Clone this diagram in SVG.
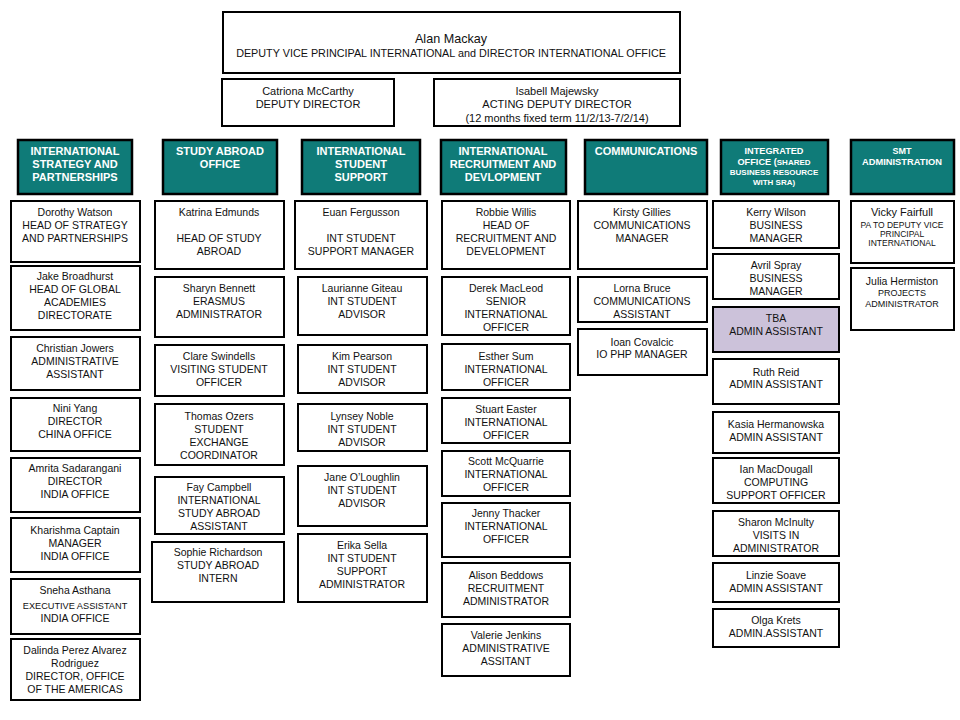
<svg xmlns="http://www.w3.org/2000/svg" width="960" height="720" viewBox="0 0 960 720">
<style>
.b{fill:#fff;stroke:#000;stroke-width:2}
.l{fill:#CCC2DA;stroke:#000;stroke-width:2}
.h{fill:#0F7B78;stroke:#000;stroke-width:2.5}
text{font-family:"Liberation Sans",Arial,sans-serif;text-anchor:middle;fill:#111;font-size:10.5px}
.ht{font-weight:bold;fill:#fff;font-size:11px}
.s{font-size:9.2px}
.tp{font-size:11px}
</style>
<rect width="960" height="720" fill="#fff"/>
<g id="connectors"/>
<g id="alan"><rect class="b" x="223" y="12" width="457" height="61"/><text x="451" y="43" style="font-size:12.6px">Alan Mackay</text><text x="451" y="57" style="font-size:10.8px">DEPUTY VICE PRINCIPAL INTERNATIONAL and DIRECTOR INTERNATIONAL OFFICE</text></g>
<g id="catriona"><rect class="b" x="222" y="79" width="172" height="47"/><text class="tp" x="308" y="95">Catriona McCarthy</text><text class="tp" x="308" y="108">DEPUTY DIRECTOR</text></g>
<g id="isabell"><rect class="b" x="434" y="79" width="246" height="47"/><text class="tp" x="557" y="95">Isabell Majewsky</text><text class="tp" x="557" y="108">ACTING DEPUTY DIRECTOR</text><text class="tp" x="557" y="122">(12 months fixed term 11/2/13-7/2/14)</text></g>

<g id="h1"><rect class="h" x="18" y="140" width="114" height="54"/><text class="ht" x="75" y="155">INTERNATIONAL</text><text class="ht" x="75" y="168">STRATEGY AND</text><text class="ht" x="75" y="181">PARTNERSHIPS</text></g>
<g id="h2"><rect class="h" x="163" y="140" width="114" height="54"/><text class="ht" x="220" y="155">STUDY ABROAD</text><text class="ht" x="220" y="168">OFFICE</text></g>
<g id="h3"><rect class="h" x="302" y="140" width="118" height="54"/><text class="ht" x="361" y="155">INTERNATIONAL</text><text class="ht" x="361" y="168">STUDENT</text><text class="ht" x="361" y="181">SUPPORT</text></g>
<g id="h4"><rect class="h" x="441" y="140" width="125" height="54"/><text class="ht" x="503" y="155">INTERNATIONAL</text><text class="ht" x="503" y="168">RECRUITMENT AND</text><text class="ht" x="503" y="181">DEVLOPMENT</text></g>
<g id="h5"><rect class="h" x="585" y="140" width="122" height="54"/><text class="ht" x="646" y="155">COMMUNICATIONS</text></g>
<g id="h6"><rect class="h" x="721" y="140" width="107" height="54"/><text class="ht" x="774" y="154" style="font-size:9.2px">INTEGRATED</text><text class="ht" x="774" y="165" style="font-size:9.2px">OFFICE (<tspan style="font-size:8px">SHARED</tspan></text><text class="ht" x="774" y="175" style="font-size:8px">BUSINESS RESOURCE</text><text class="ht" x="774" y="185" style="font-size:8px">WITH SRA)</text></g>
<g id="h7"><rect class="h" x="851" y="140" width="103" height="54"/><text class="ht" x="902" y="154" style="font-size:9px">SMT</text><text class="ht" x="902" y="165" style="font-size:9.3px">ADMINISTRATION</text></g>

<g id="dorothy"><rect class="b" x="11" y="201" width="129" height="61"/><text x="75" y="216">Dorothy Watson</text><text x="75" y="229">HEAD OF STRATEGY</text><text x="75" y="242">AND PARTNERSHIPS</text></g>
<g id="jake"><rect class="b" x="11" y="266" width="129" height="64"/><text x="75" y="280">Jake Broadhurst</text><text x="75" y="293">HEAD OF GLOBAL</text><text x="75" y="306">ACADEMIES</text><text x="75" y="319">DIRECTORATE</text></g>
<g id="christian"><rect class="b" x="11" y="337" width="129" height="53"/><text x="75" y="352">Christian Jowers</text><text x="75" y="365">ADMINISTRATIVE</text><text x="75" y="378">ASSISTANT</text></g>
<g id="nini"><rect class="b" x="11" y="398" width="129" height="53"/><text x="75" y="412">Nini Yang</text><text x="75" y="425">DIRECTOR</text><text x="75" y="438">CHINA OFFICE</text></g>
<g id="amrita"><rect class="b" x="11" y="458" width="129" height="54"/><text x="75" y="472">Amrita Sadarangani</text><text x="75" y="485">DIRECTOR</text><text x="75" y="498">INDIA OFFICE</text></g>
<g id="kharishma"><rect class="b" x="11" y="518" width="129" height="54"/><text x="75" y="534">Kharishma Captain</text><text x="75" y="547">MANAGER</text><text x="75" y="560">INDIA OFFICE</text></g>
<g id="sneha"><rect class="b" x="11" y="579" width="129" height="55"/><text x="75" y="594">Sneha Asthana</text><text class="s" x="75" y="609">EXECUTIVE ASSISTANT</text><text x="75" y="622">INDIA OFFICE</text></g>
<g id="dalinda"><rect class="b" x="11" y="639" width="129" height="61"/><text x="75" y="654">Dalinda Perez Alvarez</text><text x="75" y="667">Rodriguez</text><text x="75" y="680">DIRECTOR, OFFICE</text><text x="75" y="693">OF THE AMERICAS</text></g>

<g id="katrina"><rect class="b" x="155" y="201" width="129" height="68"/><text x="219" y="216">Katrina Edmunds</text><text x="219" y="242">HEAD OF STUDY</text><text x="219" y="255">ABROAD</text></g>
<g id="sharyn"><rect class="b" x="155" y="277" width="129" height="60"/><text x="219" y="292">Sharyn Bennett</text><text x="219" y="305">ERASMUS</text><text x="219" y="318">ADMINISTRATOR</text></g>
<g id="clare"><rect class="b" x="155" y="345" width="129" height="51"/><text x="219" y="360">Clare Swindells</text><text x="219" y="373">VISITING STUDENT</text><text x="219" y="386">OFFICER</text></g>
<g id="thomas"><rect class="b" x="155" y="404" width="129" height="61"/><text x="219" y="420">Thomas Ozers</text><text x="219" y="433">STUDENT</text><text x="219" y="446">EXCHANGE</text><text x="219" y="459">COORDINATOR</text></g>
<g id="fay"><rect class="b" x="155" y="477" width="129" height="57"/><text x="219" y="491">Fay Campbell</text><text x="219" y="504">INTERNATIONAL</text><text x="219" y="517">STUDY ABROAD</text><text x="219" y="530">ASSISTANT</text></g>
<g id="sophie"><rect class="b" x="152" y="542" width="132" height="60"/><text x="218" y="556">Sophie Richardson</text><text x="218" y="569">STUDY ABROAD</text><text x="218" y="582">INTERN</text></g>

<g id="euan"><rect class="b" x="295" y="201" width="132" height="68"/><text x="361" y="216">Euan Fergusson</text><text x="361" y="242">INT STUDENT</text><text x="361" y="255">SUPPORT MANAGER</text></g>
<g id="laurianne"><rect class="b" x="298" y="277" width="129" height="58"/><text x="362" y="292">Laurianne Giteau</text><text x="362" y="305">INT STUDENT</text><text x="362" y="318">ADVISOR</text></g>
<g id="kim"><rect class="b" x="298" y="345" width="129" height="48"/><text x="362" y="360">Kim Pearson</text><text x="362" y="373">INT STUDENT</text><text x="362" y="386">ADVISOR</text></g>
<g id="lynsey"><rect class="b" x="298" y="404" width="129" height="47"/><text x="362" y="420">Lynsey Noble</text><text x="362" y="433">INT STUDENT</text><text x="362" y="446">ADVISOR</text></g>
<g id="jane"><rect class="b" x="298" y="466" width="129" height="60"/><text x="362" y="481">Jane O’Loughlin</text><text x="362" y="494">INT STUDENT</text><text x="362" y="507">ADVISOR</text></g>
<g id="erika"><rect class="b" x="298" y="534" width="129" height="68"/><text x="362" y="549">Erika Sella</text><text x="362" y="562">INT STUDENT</text><text x="362" y="575">SUPPORT</text><text x="362" y="588">ADMINISTRATOR</text></g>

<g id="robbie"><rect class="b" x="442" y="201" width="128" height="68"/><text x="506" y="216">Robbie Willis</text><text x="506" y="229">HEAD OF</text><text x="506" y="242">RECRUITMENT AND</text><text x="506" y="255">DEVELOPMENT</text></g>
<g id="derek"><rect class="b" x="442" y="277" width="128" height="58"/><text x="506" y="292">Derek MacLeod</text><text x="506" y="305">SENIOR</text><text x="506" y="318">INTERNATIONAL</text><text x="506" y="331">OFFICER</text></g>
<g id="esther"><rect class="b" x="442" y="344" width="128" height="46"/><text x="506" y="360">Esther Sum</text><text x="506" y="373">INTERNATIONAL</text><text x="506" y="386">OFFICER</text></g>
<g id="stuart"><rect class="b" x="442" y="398" width="128" height="45"/><text x="506" y="413">Stuart Easter</text><text x="506" y="426">INTERNATIONAL</text><text x="506" y="439">OFFICER</text></g>
<g id="scott"><rect class="b" x="442" y="451" width="128" height="45"/><text x="506" y="465">Scott McQuarrie</text><text x="506" y="478">INTERNATIONAL</text><text x="506" y="491">OFFICER</text></g>
<g id="jenny"><rect class="b" x="442" y="503" width="128" height="54"/><text x="506" y="517">Jenny Thacker</text><text x="506" y="530">INTERNATIONAL</text><text x="506" y="543">OFFICER</text></g>
<g id="alison"><rect class="b" x="442" y="563" width="128" height="54"/><text x="506" y="579">Alison Beddows</text><text x="506" y="592">RECRUITMENT</text><text x="506" y="605">ADMINISTRATOR</text></g>
<g id="valerie"><rect class="b" x="442" y="624" width="128" height="52"/><text x="506" y="639">Valerie Jenkins</text><text x="506" y="652">ADMINISTRATIVE</text><text x="506" y="665">ASSITANT</text></g>

<g id="kirsty"><rect class="b" x="578" y="201" width="129" height="68"/><text x="642" y="216">Kirsty Gillies</text><text x="642" y="229">COMMUNICATIONS</text><text x="642" y="242">MANAGER</text></g>
<g id="lorna"><rect class="b" x="578" y="277" width="129" height="45"/><text x="642" y="292">Lorna Bruce</text><text x="642" y="305">COMMUNICATIONS</text><text x="642" y="318">ASSISTANT</text></g>
<g id="ioan"><rect class="b" x="578" y="329" width="129" height="46"/><text x="642" y="346">Ioan Covalcic</text><text x="642" y="358">IO PHP MANAGER</text></g>

<g id="kerry"><rect class="b" x="713" y="201" width="126" height="47"/><text x="776" y="216">Kerry Wilson</text><text x="776" y="229">BUSINESS</text><text x="776" y="242">MANAGER</text></g>
<g id="avril"><rect class="b" x="713" y="254" width="126" height="45"/><text x="776" y="269">Avril Spray</text><text x="776" y="282">BUSINESS</text><text x="776" y="295">MANAGER</text></g>
<g id="tba"><rect class="l" x="713" y="307" width="126" height="45"/><text x="776" y="322">TBA</text><text x="776" y="335">ADMIN ASSISTANT</text></g>
<g id="ruth"><rect class="b" x="713" y="359" width="126" height="45"/><text x="776" y="376">Ruth Reid</text><text x="776" y="388">ADMIN ASSISTANT</text></g>
<g id="kasia"><rect class="b" x="713" y="412" width="126" height="41"/><text x="776" y="428">Kasia Hermanowska</text><text x="776" y="441">ADMIN ASSISTANT</text></g>
<g id="ian"><rect class="b" x="713" y="458" width="126" height="45"/><text x="776" y="473">Ian MacDougall</text><text x="776" y="486">COMPUTING</text><text x="776" y="499">SUPPORT OFFICER</text></g>
<g id="sharon"><rect class="b" x="713" y="511" width="126" height="45"/><text x="776" y="526">Sharon McInulty</text><text x="776" y="539">VISITS IN</text><text x="776" y="552">ADMINISTRATOR</text></g>
<g id="linzie"><rect class="b" x="713" y="563" width="126" height="39"/><text x="776" y="579">Linzie Soave</text><text x="776" y="592">ADMIN ASSISTANT</text></g>
<g id="olga"><rect class="b" x="713" y="609" width="126" height="38"/><text x="776" y="624">Olga Krets</text><text x="776" y="637">ADMIN.ASSISTANT</text></g>

<g id="vicky"><rect class="b" x="851" y="201" width="103" height="62"/><text x="902" y="216" style="font-size:11px">Vicky Fairfull</text><text x="902" y="228" style="font-size:8.5px">PA TO DEPUTY VICE</text><text x="902" y="237" style="font-size:8.5px">PRINCIPAL</text><text x="902" y="246" style="font-size:8.5px">INTERNATIONAL</text></g>
<g id="julia"><rect class="b" x="851" y="268" width="103" height="62"/><text x="902" y="285" style="font-size:10.5px">Julia Hermiston</text><text x="902" y="296" style="font-size:9px">PROJECTS</text><text x="902" y="307" style="font-size:9px">ADMINISTRATOR</text></g>
</svg>
